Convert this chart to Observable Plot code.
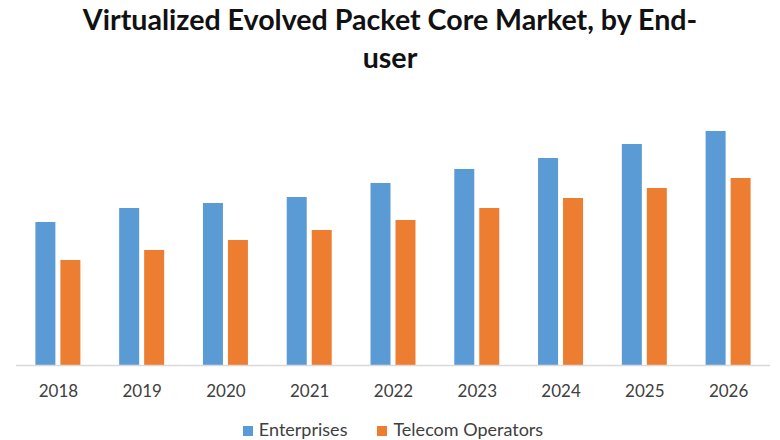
<!DOCTYPE html>
<html>
<head>
<meta charset="utf-8">
<script src="https://cdn.jsdelivr.net/npm/d3@7"></script>
<script src="https://cdn.jsdelivr.net/npm/@observablehq/plot@0.6"></script>
<style>
  html, body { margin: 0; padding: 0; background: #fff; }
  #wrap { width: 780px; height: 440px; overflow: hidden; position: relative; font-family: Lato, "Open Sans", sans-serif; }
  #title { width: 780px; text-align: center; font-weight: bold; font-size: 28.6px; line-height: 38px; color: #111; height: 76px; }
  #chart svg { display: block; }
  #legend { display: flex; justify-content: center; align-items: center; font-size: 18px; line-height: 20px; color: #404040; margin-top: 13px; padding-left: 6px; }
  .item { display: flex; align-items: center; margin: 0 15px; }
  .sw { width: 10px; height: 10px; margin-right: 6px; margin-top: 4px; }
</style>
</head>
<body>
<div id="wrap">
  <div id="title">Virtualized Evolved Packet Core Market, by End-<br>user</div>
  <div id="chart"></div>
  <div id="legend"></div>
</div>
<script>
const years = ["2018", "2019", "2020", "2021", "2022", "2023", "2024", "2025", "2026"];
const series = ["Enterprises", "Telecom Operators"];
const colors = ["#5B9BD5", "#ED7D31"];
const enterprises = [143, 157, 162, 168, 182, 196, 207, 221, 234];
const telecom = [105, 115, 125, 135, 145, 157, 167, 177, 187];

const data = years.flatMap((y, i) => [
  {year: y, series: series[0], value: enterprises[i]},
  {year: y, series: series[1], value: telecom[i]}
]);

const chart = Plot.plot({
  width: 780,
  height: 330,
  marginLeft: 16,
  marginRight: 10,
  marginTop: 39,
  marginBottom: 41,
  fx: {domain: years, padding: 0, round: false, label: null, axis: "bottom", tickSize: 0, tickPadding: 19},
  x: {domain: series, axis: null, round: false, paddingInner: 0.2, paddingOuter: 0.776},
  y: {domain: [0, 250], axis: null},
  color: {domain: series, range: colors},
  style: {fontFamily: "Lato, 'Open Sans', sans-serif", fontSize: "17px", color: "#404040", background: "#fff"},
  marks: [
    Plot.barY(data, {fx: "year", x: "series", y: "value", fill: "series"}),
    Plot.ruleY([0], {stroke: "#D9D9D9", strokeWidth: 1.5})
  ]
});
document.getElementById("chart").appendChild(chart);

const legend = document.getElementById("legend");
series.forEach((s, i) => {
  const item = document.createElement("div");
  item.className = "item";
  const sw = document.createElement("span");
  sw.className = "sw";
  sw.style.background = colors[i];
  const t = document.createElement("span");
  t.textContent = s;
  item.appendChild(sw);
  item.appendChild(t);
  legend.appendChild(item);
});
</script>
</body>
</html>
